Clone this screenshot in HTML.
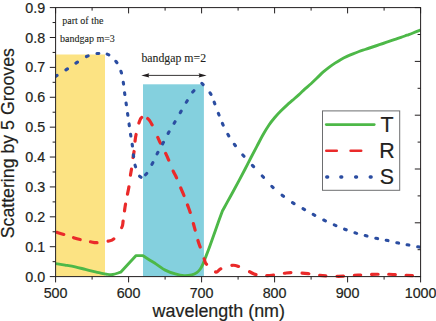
<!DOCTYPE html><html><head><meta charset="utf-8"><style>html,body{margin:0;padding:0;background:#fff}svg{display:block}text{font-family:"Liberation Sans",sans-serif;fill:#231f20;stroke:#231f20;stroke-width:0.2px}.s{font-family:"Liberation Serif",serif;stroke-width:0.1px}</style></head><body>
<svg width="436" height="321" viewBox="0 0 436 321">
<rect width="436" height="321" fill="#fff"/>
<rect x="55.6" y="54.5" width="49.40" height="222.10" fill="#fce383"/>
<rect x="143" y="84.3" width="60.90" height="192.30" fill="#84d0de"/>
<clipPath id="c"><rect x="55.6" y="7.6" width="365.0" height="270.5"/></clipPath>
<g clip-path="url(#c)">
<path d="M55.60 263.60 C57.18 263.85 61.83 264.55 65.10 265.10 C68.37 265.65 71.83 266.18 75.20 266.90 C78.57 267.62 81.93 268.57 85.30 269.40 C88.67 270.23 92.95 271.32 95.40 271.90 C97.85 272.48 98.17 272.52 100.00 272.90 C101.83 273.28 104.27 273.93 106.40 274.20 C108.53 274.47 110.38 274.85 112.80 274.50 C115.22 274.15 118.20 272.90 120.90 272.10 C125.97 266.60 131.03 261.10 136.10 255.60 C138.23 255.60 140.37 255.60 142.50 255.60 C147.07 258.43 152.42 261.68 156.20 264.10 C159.98 266.52 162.02 268.47 165.20 270.10 C168.38 271.73 172.13 272.98 175.30 273.90 C178.47 274.82 181.47 275.45 184.20 275.60 C186.93 275.75 189.60 275.30 191.70 274.80 C193.80 274.30 195.37 273.57 196.80 272.60 C198.23 271.63 199.30 270.37 200.30 269.00 C201.30 267.63 201.97 266.23 202.80 264.40 C203.63 262.57 204.15 260.98 205.30 258.00 C206.45 255.02 208.02 251.08 209.70 246.50 C211.38 241.92 213.85 234.87 215.40 230.50 C216.95 226.13 217.82 223.58 219.00 220.30 C220.18 217.02 221.33 213.97 222.50 210.80 C224.00 208.07 225.25 205.78 227.00 202.60 C228.75 199.42 231.00 195.37 233.00 191.70 C235.00 188.03 237.00 184.35 239.00 180.60 C241.00 176.85 243.00 173.05 245.00 169.20 C247.00 165.35 249.00 161.35 251.00 157.50 C253.00 153.65 255.00 149.88 257.00 146.10 C259.00 142.32 261.00 138.32 263.00 134.80 C265.00 131.28 267.00 127.92 269.00 125.00 C271.00 122.08 273.00 119.67 275.00 117.30 C277.00 114.93 279.00 112.83 281.00 110.80 C283.00 108.77 285.00 106.92 287.00 105.10 C289.00 103.28 291.00 101.65 293.00 99.90 C295.00 98.15 297.00 96.43 299.00 94.60 C301.00 92.77 303.00 90.72 305.00 88.90 C307.00 87.08 309.00 85.52 311.00 83.70 C313.00 81.88 315.00 79.92 317.00 78.00 C319.00 76.08 321.00 73.98 323.00 72.20 C325.00 70.42 327.00 68.82 329.00 67.30 C331.00 65.78 333.00 64.42 335.00 63.10 C337.00 61.78 339.00 60.52 341.00 59.40 C343.00 58.28 345.00 57.33 347.00 56.40 C349.00 55.47 351.00 54.62 353.00 53.80 C355.00 52.98 357.00 52.22 359.00 51.50 C361.00 50.78 363.00 50.17 365.00 49.50 C367.00 48.83 369.00 48.17 371.00 47.50 C373.00 46.83 375.00 46.17 377.00 45.50 C379.00 44.83 381.00 44.18 383.00 43.50 C385.00 42.82 387.00 42.08 389.00 41.40 C391.00 40.72 393.00 40.07 395.00 39.40 C397.00 38.73 399.00 38.10 401.00 37.40 C403.00 36.70 405.00 35.93 407.00 35.20 C409.00 34.47 411.00 33.77 413.00 33.00 C415.00 32.23 417.73 31.12 419.00 30.60 C420.27 30.08 420.33 30.02 420.60 29.90" fill="none" stroke="#4db848" stroke-width="2.9" stroke-linejoin="round"/>
<path d="M56.94 232.40 C58.08 232.73 60.99 233.52 63.76 234.40 M73.55 237.68 C76.28 238.53 77.33 238.84 80.15 239.52 M90.49 241.79 C93.30 242.32 94.08 242.82 97.01 242.71 M108.11 241.10 C110.90 240.46 111.53 241.15 113.79 238.90 M121.69 227.63 C123.25 224.66 122.64 223.85 123.11 221.07 M124.50 210.91 C124.90 208.10 125.00 206.98 125.50 204.19 M127.47 194.13 C128.04 191.22 128.43 189.92 128.93 186.77 M130.44 175.22 C130.86 172.29 131.03 172.13 131.46 169.18 M133.04 157.52 C133.47 154.57 133.73 154.20 134.06 151.48 M135.02 141.22 C135.35 138.38 135.43 137.51 136.08 134.48 M138.92 123.04 C139.85 120.21 140.22 118.20 141.68 117.46 M147.70 118.55 C149.44 119.78 150.42 121.71 152.10 124.85 M157.78 137.37 C159.17 140.42 159.10 140.46 160.42 143.13 M165.68 153.38 C167.06 156.21 167.47 157.18 168.72 160.12 M173.22 171.05 C174.53 174.01 175.32 175.02 176.58 177.85 M180.75 187.99 C181.98 190.93 182.83 192.69 183.95 195.51 M187.48 204.92 C188.52 207.74 189.24 209.38 190.22 212.48 M193.36 223.55 C194.18 226.50 194.37 227.34 195.14 230.15 M197.94 240.43 C198.78 243.25 199.12 244.01 200.16 247.07 M204.16 258.79 C205.22 261.66 204.64 262.12 206.54 264.31 M215.60 271.98 C217.97 272.73 218.09 269.93 220.80 268.82 M231.88 265.32 C234.84 264.91 235.57 265.30 238.52 266.38 M249.58 271.77 C252.50 273.14 253.17 274.00 256.02 274.63 M266.70 275.58 C269.61 275.65 270.56 275.41 273.50 275.02 M284.39 273.25 C287.29 272.84 287.96 272.58 290.91 272.55 M302.09 273.05 C305.08 273.25 305.87 273.37 308.81 273.75 M319.69 275.33 C322.53 275.68 322.92 275.72 325.81 275.87 M337.00 276.27 C339.95 276.31 340.60 276.29 343.50 276.13 M354.40 275.32 C357.26 275.13 357.84 275.14 360.70 274.98 M371.60 274.37 C374.50 274.25 375.25 274.25 378.10 274.23 M388.70 274.27 C391.56 274.34 392.40 274.46 395.30 274.63 M406.10 275.28 C408.95 275.44 411.35 275.57 412.40 275.62 " fill="none" stroke="#ea2a2a" stroke-width="3.2" stroke-linecap="round"/>
<path d="M55.54 76.38 L57.06 75.42 M65.95 69.89 L67.45 68.91 M75.94 63.09 L77.46 62.11 M86.47 56.55 L88.13 55.85 M97.00 53.57 L98.80 53.43 M107.18 54.12 L108.82 54.88 M115.86 61.28 L116.94 62.72 M120.92 71.25 L121.48 72.95 M123.26 82.31 L123.54 84.09 M124.58 92.71 L124.82 94.49 M126.07 103.01 L126.33 104.79 M127.57 113.51 L127.83 115.29 M129.07 123.91 L129.33 125.69 M130.56 134.21 L130.84 135.99 M132.18 144.21 L132.42 145.99 M133.37 154.71 L133.63 156.49 M135.03 165.14 L135.57 166.86 M139.58 176.26 L141.02 177.34 M145.49 174.77 L146.71 173.43 M151.97 164.29 L152.83 162.71 M157.09 153.90 L157.91 152.30 M162.57 143.89 L163.43 142.31 M168.16 133.38 L169.04 131.82 M174.15 123.28 L175.05 121.72 M180.25 112.68 L181.15 111.12 M186.33 102.27 L187.27 100.73 M192.70 92.07 L193.90 90.73 M201.87 83.27 L203.13 84.53 M210.02 92.84 L210.98 94.36 M214.17 102.16 L214.83 103.84 M218.37 113.36 L219.03 115.04 M222.42 123.48 L223.18 125.12 M227.85 134.32 L228.75 135.88 M234.37 144.28 L235.43 145.72 M242.81 154.92 L243.99 156.28 M252.39 165.34 L253.61 166.66 M262.29 175.94 L263.51 177.26 M271.85 186.28 L273.15 187.52 M282.09 195.25 L283.51 196.35 M292.54 202.62 L294.06 203.58 M303.02 208.65 L304.58 209.55 M313.21 214.47 L314.79 215.33 M323.79 220.01 L325.41 220.79 M334.28 224.84 L335.92 225.56 M344.56 229.18 L346.24 229.82 M354.94 232.84 L356.66 233.36 M365.23 235.58 L366.97 236.02 M375.82 238.21 L377.58 238.59 M386.22 240.21 L387.98 240.59 M396.82 242.71 L398.58 243.09 M407.12 244.73 L408.88 245.07 M417.72 246.73 L419.48 247.07 " fill="none" stroke="#2b4da1" stroke-width="3.1" stroke-linecap="round"/>
</g>
<rect x="55.6" y="7.6" width="365.0" height="269.0" fill="none" stroke="#231f20" stroke-width="1"/>
<path d="M55.60 276.6 v5.8 M55.60 7.6 v5.8 M92.10 276.6 v3.0 M92.10 7.6 v3.0 M128.60 276.6 v5.8 M128.60 7.6 v5.8 M165.10 276.6 v3.0 M165.10 7.6 v3.0 M201.60 276.6 v5.8 M201.60 7.6 v5.8 M238.10 276.6 v3.0 M238.10 7.6 v3.0 M274.60 276.6 v5.8 M274.60 7.6 v5.8 M311.10 276.6 v3.0 M311.10 7.6 v3.0 M347.60 276.6 v5.8 M347.60 7.6 v5.8 M384.10 276.6 v3.0 M384.10 7.6 v3.0 M420.60 276.6 v5.8 M420.60 7.6 v5.8 M55.6 276.60 h-5.8 M55.6 261.66 h-3.0 M55.6 246.71 h-5.8 M55.6 231.77 h-3.0 M55.6 216.82 h-5.8 M55.6 201.88 h-3.0 M55.6 186.93 h-5.8 M55.6 171.99 h-3.0 M55.6 157.04 h-5.8 M55.6 142.10 h-3.0 M55.6 127.16 h-5.8 M55.6 112.21 h-3.0 M55.6 97.27 h-5.8 M55.6 82.32 h-3.0 M55.6 67.38 h-5.8 M55.6 52.43 h-3.0 M55.6 37.49 h-5.8 M55.6 22.54 h-3.0 M55.6 7.60 h-5.8 M420.6 276.60 h-5.8 M420.6 249.70 h-3.0 M420.6 222.80 h-5.8 M420.6 195.90 h-3.0 M420.6 169.00 h-5.8 M420.6 142.10 h-3.0 M420.6 115.20 h-5.8 M420.6 88.30 h-3.0 M420.6 61.40 h-5.8 M420.6 34.50 h-3.0 M420.6 7.60 h-5.8 " fill="none" stroke="#231f20" stroke-width="1"/>
<text x="55.60" y="298.1" font-size="14.3" text-anchor="middle">500</text>
<text x="128.60" y="298.1" font-size="14.3" text-anchor="middle">600</text>
<text x="201.60" y="298.1" font-size="14.3" text-anchor="middle">700</text>
<text x="274.60" y="298.1" font-size="14.3" text-anchor="middle">800</text>
<text x="347.60" y="298.1" font-size="14.3" text-anchor="middle">900</text>
<text x="420.60" y="298.1" font-size="14.3" text-anchor="middle">1000</text>
<text x="45.1" y="281.70" font-size="14.3" text-anchor="end">0.0</text>
<text x="45.1" y="251.81" font-size="14.3" text-anchor="end">0.1</text>
<text x="45.1" y="221.92" font-size="14.3" text-anchor="end">0.2</text>
<text x="45.1" y="192.03" font-size="14.3" text-anchor="end">0.3</text>
<text x="45.1" y="162.14" font-size="14.3" text-anchor="end">0.4</text>
<text x="45.1" y="132.26" font-size="14.3" text-anchor="end">0.5</text>
<text x="45.1" y="102.37" font-size="14.3" text-anchor="end">0.6</text>
<text x="45.1" y="72.48" font-size="14.3" text-anchor="end">0.7</text>
<text x="45.1" y="42.59" font-size="14.3" text-anchor="end">0.8</text>
<text x="45.1" y="12.70" font-size="14.3" text-anchor="end">0.9</text>
<text x="152.6" y="317" font-size="18.3" textLength="132.4" lengthAdjust="spacingAndGlyphs">wavelength (nm)</text>
<text transform="translate(13.7 238.3) rotate(-90)" font-size="18.3" textLength="190.2" lengthAdjust="spacingAndGlyphs">Scattering by 5 Grooves</text>
<text class="s" x="62.3" y="24.1" font-size="10">part of the</text>
<text class="s" x="60" y="41.9" font-size="10">bandgap m=3</text>
<text class="s" x="141.4" y="61.7" font-size="11.8">bandgap m=2</text>
<path d="M148 75.4 H200" stroke="#231f20" stroke-width="0.9" fill="none"/>
<path d="M141.3 75.4 l8 -2.1 l-1 2.1 l1 2.1 z M206.6 75.4 l-8 -2.1 l1 2.1 l-1 2.1 z" fill="#231f20"/>
<rect x="322.5" y="110.9" width="77.2" height="79.4" fill="#fff" stroke="#6d6e70" stroke-width="1"/>
<path d="M326.2 124.6 H374.3" stroke="#4db848" stroke-width="2.6" stroke-linecap="round"/>
<path d="M326.3 150.8 H336.8 M350.6 150.8 H361.2" stroke="#ea2a2a" stroke-width="2.6" stroke-linecap="round"/>
<path d="M326.7 177 h1 M340.8 177 h1 M355.6 177 h1 M370.2 177 h1" stroke="#2b4da1" stroke-width="3.3" stroke-linecap="round"/>
<text x="387" y="131.5" font-size="21.4" text-anchor="middle">T</text>
<text x="387.1" y="158.3" font-size="21.4" text-anchor="middle">R</text>
<text x="387" y="184.2" font-size="21.4" text-anchor="middle">S</text>
</svg></body></html>
